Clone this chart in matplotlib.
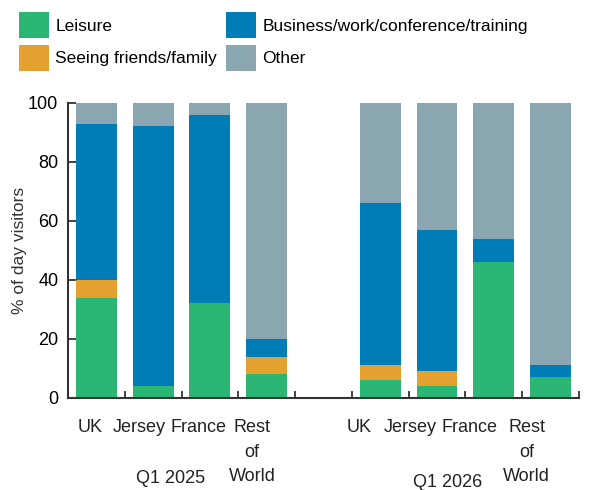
import matplotlib
matplotlib.use("Agg")
import matplotlib.pyplot as plt
import numpy as np

plt.rcParams['font.family'] = ['Liberation Sans', 'DejaVu Sans']

# --- datos ---
paises = ["UK", "Jersey", "France", "Rest\nof\nWorld"]
periodos = ["Q1 2025", "Q1 2026"]
series = ["Leisure", "Seeing friends/family", "Business/work/conference/training", "Other"]

leisure_2025 = [34, 4, 32, 8]
friends_2025 = [6, 0, 0, 6]
business_2025 = [53, 88, 64, 6]
other_2025 = [7, 8, 4, 80]

leisure_2026 = [6, 4, 46, 7]
friends_2026 = [5, 5, 0, 0]
business_2026 = [55, 48, 8, 4]
other_2026 = [34, 43, 46, 89]

colores = ["#2BB673", "#E5A130", "#007CB7", "#8AA7B1"]

# desplazamiento de las etiquetas respecto al centro de la barra (como en el original)
desfase_etiquetas = [-0.11, -0.25, -0.21, -0.26, -0.37, -0.47, -0.43, -0.42]

# --- figura ---
fig = plt.figure(figsize=(6.1, 4.9), dpi=100)
ax = fig.add_axes([0.1115, 0.188, 0.8375, 0.602])

# posiciones: grupo 1 en 0..3, hueco en 4, grupo 2 en 5..8
x1 = np.arange(4)
x2 = np.arange(4) + 5
ancho = 0.72

datos = [
    (x1, [leisure_2025, friends_2025, business_2025, other_2025]),
    (x2, [leisure_2026, friends_2026, business_2026, other_2026]),
]
for x, valores in datos:
    base = np.zeros(4)
    for i, v in enumerate(valores):
        ax.bar(x, v, ancho, bottom=base, color=colores[i], label=series[i] if x is x1 else None, linewidth=0)
        base += np.array(v)

ax.set_xlim(-0.5, 8.5)
ax.set_ylim(0, 100)
ax.set_yticks([0, 20, 40, 60, 80, 100])
ax.tick_params(axis='y', direction='in', length=6, width=1.3, color='#333333', labelsize=13, pad=7)
ax.set_ylabel("% of day visitors", fontsize=12.5, color='#333333')
ax.yaxis.set_label_coords(-0.081, 0.5)

# ticks de separacion (mayores) y etiquetas (menores)
ax.set_xticks(np.arange(0.5, 9, 1.0))
ax.set_xticklabels([])
ax.tick_params(axis='x', which='major', direction='in', length=5, width=1.3, color='#333333')
posiciones = np.concatenate([x1, x2]) + np.array(desfase_etiquetas)
ax.set_xticks(posiciones, minor=True)
ax.set_xticklabels(paises + paises, minor=True, fontsize=13, color='#222222', linespacing=1.6, va='top')
ax.tick_params(axis='x', which='minor', length=0, pad=15)

ax.text(1.3, -0.2746, periodos[0], transform=ax.get_xaxis_transform(), ha='center', va='center', fontsize=13, color='#222222')
ax.text(6.19, -0.288, periodos[1], transform=ax.get_xaxis_transform(), ha='center', va='center', fontsize=13, color='#222222')

for lado in ['top', 'right']:
    ax.spines[lado].set_visible(False)
for lado in ['left', 'bottom']:
    ax.spines[lado].set_color('#333333')
    ax.spines[lado].set_linewidth(1.5)

# leyenda arriba
fig.legend(loc='upper left', bbox_to_anchor=(0.031, 0.9755), ncol=2, frameon=False, fontsize=12.5,
           handlelength=1.75, handleheight=1.92, handletextpad=0.35, columnspacing=0.5,
           labelspacing=0.4, borderaxespad=0, borderpad=0)

fig.savefig("out.png", dpi=100)
